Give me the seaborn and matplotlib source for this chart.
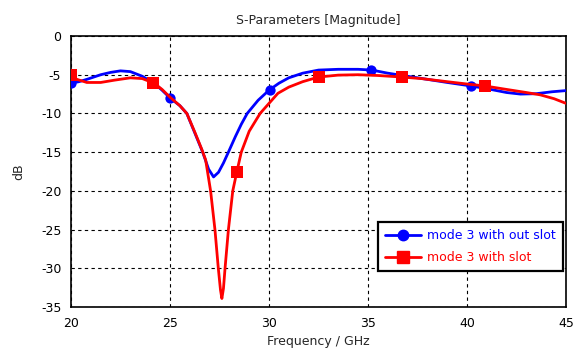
import numpy as np
import pandas as pd
import matplotlib
matplotlib.use("Agg")
import matplotlib.pyplot as plt
from matplotlib.lines import Line2D
import seaborn as sns

# ---- data ----
blue_freq = [20.0, 20.4, 20.8, 21.5, 22.0, 22.5, 23.0, 23.6, 24.2, 24.6, 25.0, 25.5, 25.85,
             26.25, 26.65, 26.95, 27.2, 27.45, 27.7, 27.95, 28.3, 28.6, 28.9, 29.45, 30.0,
             30.5, 31.0, 31.7, 32.5, 33.5, 34.5, 35.2, 36.0, 37.0, 38.0, 39.0, 40.2, 41.0,
             42.0, 42.7, 43.5, 44.3, 45.0]
blue_db = [-6.1, -5.9, -5.6, -5.0, -4.7, -4.5, -4.6, -5.2, -6.1, -7.0, -8.0, -9.0, -10.0,
           -12.5, -15.0, -17.2, -18.2, -17.6, -16.4, -15.0, -13.0, -11.4, -10.0, -8.3, -7.0,
           -6.1, -5.4, -4.8, -4.4, -4.3, -4.3, -4.4, -4.8, -5.2, -5.6, -6.0, -6.45, -6.8,
           -7.3, -7.5, -7.45, -7.2, -7.05]
blue_mark_freq = [20.0, 25.0, 30.05, 35.15, 40.2]
blue_mark_db = [-6.1, -8.0, -7.0, -4.4, -6.45]

red_freq = [20.0, 20.3, 20.8, 21.5, 22.2, 23.0, 23.6, 24.2, 24.6, 25.0, 25.5, 25.85, 26.25,
            26.6, 26.8, 27.05, 27.27, 27.44, 27.55, 27.62, 27.7, 27.78, 27.95, 28.17, 28.37,
            28.6, 29.0, 29.55, 30.0, 30.45, 31.0, 31.7, 32.5, 33.5, 34.5, 35.5, 36.7, 37.7,
            39.0, 40.0, 40.9, 42.0, 43.0, 43.7, 44.4, 45.0]
red_db = [-5.1, -5.6, -6.0, -6.0, -5.7, -5.4, -5.5, -6.1, -6.9, -7.9, -9.0, -10.0, -12.4,
          -14.6, -16.0, -20.0, -25.0, -30.0, -32.8, -33.9, -32.6, -30.0, -25.0, -20.0, -17.6,
          -15.0, -12.3, -10.0, -8.7, -7.4, -6.6, -5.9, -5.3, -5.05, -5.0, -5.1, -5.3, -5.5,
          -5.9, -6.2, -6.45, -6.9, -7.3, -7.6, -8.1, -8.7]
red_mark_freq = [20.0, 24.15, 28.4, 32.5, 36.7, 40.9]
red_mark_db = [-5.1, -6.1, -17.6, -5.3, -5.3, -6.45]

series_labels = ["mode 3 with out slot", "mode 3 with slot"]
x_ticks = [20, 25, 30, 35, 40, 45]
y_ticks = [0, -5, -10, -15, -20, -25, -30, -35]

BLUE = "#0000ff"
RED = "#ff0000"

sns.set_style("white")
plt.rcParams["font.family"] = ["DejaVu Sans"]
plt.rcParams["axes.unicode_minus"] = False

fig = plt.figure(figsize=(5.8, 3.59), dpi=100)
ax = fig.add_axes([0.1224, 0.1448, 0.8535, 0.7549])

blue_df = pd.DataFrame({"f": blue_freq, "db": blue_db})
red_df = pd.DataFrame({"f": red_freq, "db": red_db})
blue_m = pd.DataFrame({"f": blue_mark_freq, "db": blue_mark_db})
red_m = pd.DataFrame({"f": red_mark_freq, "db": red_mark_db})

sns.lineplot(data=blue_df, x="f", y="db", ax=ax, color=BLUE, lw=2.0, sort=False,
             estimator=None, legend=False, zorder=3)
sns.scatterplot(data=blue_m, x="f", y="db", ax=ax, color=BLUE, marker="o", s=55,
                edgecolor=BLUE, linewidth=0, legend=False, zorder=4)
sns.lineplot(data=red_df, x="f", y="db", ax=ax, color=RED, lw=2.0, sort=False,
             estimator=None, legend=False, zorder=5)
sns.scatterplot(data=red_m, x="f", y="db", ax=ax, color=RED, marker="s", s=75,
                edgecolor=RED, linewidth=0, legend=False, zorder=6)

ax.set_xlim(20, 45)
ax.set_ylim(-35, 0)
ax.set_xticks(x_ticks)
ax.set_yticks(y_ticks)
ax.set_xticklabels([str(t) for t in x_ticks])
ax.set_yticklabels([str(t) for t in y_ticks])
ax.grid(True, color="black", linestyle=(0, (3, 3)), linewidth=0.8)
for s in ax.spines.values():
    s.set_color("black")
    s.set_linewidth(1.2)
ax.tick_params(direction="out", length=4, width=1, colors="black", labelsize=9, pad=3)
ax.set_xlabel("Frequency / GHz", fontsize=9, labelpad=4)
ax.set_ylabel("dB", fontsize=9, labelpad=11)
ax.set_title("S-Parameters [Magnitude]", fontsize=9, pad=9)

handles = [
    Line2D([0], [0], color=BLUE, lw=2.0, marker="o", markersize=7.5),
    Line2D([0], [0], color=RED, lw=2.0, marker="s", markersize=8.5),
]
leg = ax.legend(handles, series_labels, loc="lower right", bbox_to_anchor=(0.994, 0.133),
                borderaxespad=0, frameon=True, fancybox=False, fontsize=9,
                handlelength=2.9, handletextpad=0.5, borderpad=0.55, labelspacing=0.7)
leg.get_frame().set_edgecolor("black")
leg.get_frame().set_linewidth(1.6)
leg.get_frame().set_alpha(1)
for t, c in zip(leg.get_texts(), [BLUE, RED]):
    t.set_color(c)

fig.savefig("out.png", dpi=100)
